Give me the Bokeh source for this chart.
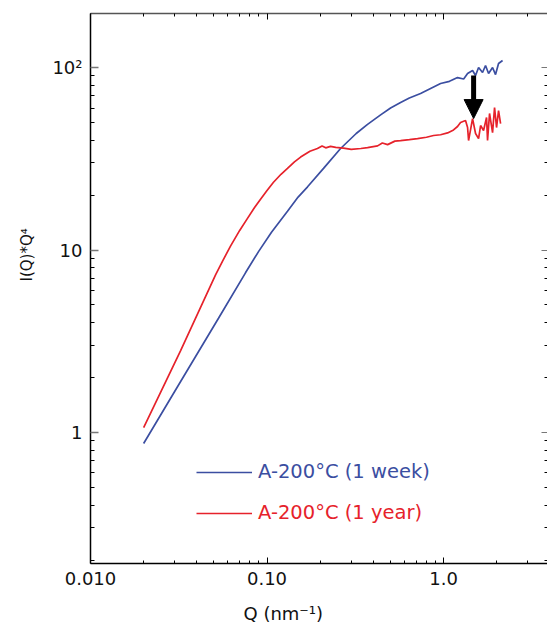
from bokeh.plotting import figure
from bokeh.models import (Range1d, FixedTicker, LogAxis, Legend, LegendItem,
                          Arrow, NormalHead, Title, CustomJSTickFormatter)
from bokeh.embed import file_html
from bokeh.resources import INLINE

# ---- data ----
q_week = [0.0200, 0.0311, 0.0531, 0.0755, 0.0895, 0.1060, 0.1306, 0.1500, 0.1697,
          0.209, 0.261, 0.320, 0.371, 0.440, 0.501, 0.571, 0.640, 0.741, 0.850,
          0.962, 1.08, 1.20, 1.30, 1.368, 1.460, 1.518, 1.579, 1.663, 1.729,
          1.799, 1.895, 1.970, 2.049, 2.159]
i_week = [0.870, 1.78, 4.23, 7.5, 9.8, 12.5, 16.3, 19.5, 22.2,
          28.0, 36.0, 43.5, 48.8, 55.0, 60.0, 64.3, 68.0, 72.0, 77.0,
          81.7, 84.0, 88.1, 86.5, 92.7, 96.3, 90.4, 100.0, 93.9, 102.6,
          92.7, 100.0, 91.5, 105.2, 109.2]

q_year = [0.0200, 0.0324, 0.0511, 0.0560, 0.0621, 0.0700, 0.0775, 0.0850, 0.0919,
          0.1000, 0.1088, 0.1200, 0.1306, 0.1430, 0.155, 0.175, 0.193, 0.205,
          0.215, 0.229, 0.245, 0.271, 0.300, 0.340, 0.371, 0.423, 0.450, 0.482,
          0.530, 0.571, 0.640, 0.712, 0.800, 0.878, 0.962, 1.054, 1.139, 1.20,
          1.248, 1.332, 1.368, 1.386, 1.460, 1.518, 1.579, 1.621, 1.685, 1.752,
          1.775, 1.822, 1.895, 1.945, 1.996, 2.049, 2.104]
i_year = [1.065, 2.81, 7.3, 8.7, 10.5, 12.8, 14.9, 17.1, 19.0,
          21.2, 23.5, 26.0, 28.0, 30.4, 32.3, 34.8, 36.0, 37.2,
          36.3, 37.0, 36.5, 36.2, 35.6, 36.0, 36.4, 37.2, 38.6, 37.8,
          39.5, 39.8, 40.3, 40.8, 41.5, 42.4, 42.8, 43.8, 45.5, 47.5,
          50.0, 51.2, 46.9, 39.8, 52.5, 43.5, 40.8, 48.1, 45.2, 53.2,
          39.8, 56.0, 44.0, 60.4, 46.9, 58.1, 49.3]

series_labels = ["A-200°C (1 week)", "A-200°C (1 year)"]

x_ticks = [0.01, 0.1, 1.0]
x_tick_labels = ["0.010", "0.10", "1.0"]
y_ticks = [1.0, 10.0, 100.0]
y_tick_labels = ["1", "10", "10²"]

arrow_q = 1.48
arrow_from = 90.4
arrow_to = 52.5

x_axis_label = "Q (nm⁻¹)"
y_axis_label = "I(Q)*Q⁴"

# ---- styling ----
FONT = "DejaVu Sans"
BLUE = "#3b4ea1"
RED = "#e6222b"
X0, X1 = 0.01, 3.88
Y0, Y1 = 0.1915, 197.7

p = figure(width=547, height=629, x_axis_type="log", y_axis_type="log",
           x_range=Range1d(X0, X1), y_range=Range1d(Y0, Y1),
           output_backend="svg", toolbar_location=None,
           min_border_left=90, min_border_right=0, min_border_top=13,
           min_border_bottom=66)
p.outline_line_color = None
p.xgrid.visible = False
p.ygrid.visible = False
p.background_fill_color = "white"
p.border_fill_color = "white"

minor_x = [m * 10.0 ** k for k in range(-2, 1) for m in range(2, 10)]
minor_x = [v for v in minor_x if X0 < v < X1]
minor_y = [m * 10.0 ** k for k in range(-1, 3) for m in range(2, 10)]
minor_y = [v for v in minor_y if Y0 < v < Y1]
xt = FixedTicker(ticks=x_ticks, minor_ticks=minor_x)
yt = FixedTicker(ticks=y_ticks, minor_ticks=minor_y)
blank = CustomJSTickFormatter(code="return ''")

xa = p.xaxis[0]
xa.ticker = xt
xa.major_label_overrides = dict(zip(x_ticks, x_tick_labels))
xa.major_tick_in = 6
xa.major_tick_out = 0
xa.minor_tick_in = 3
xa.minor_tick_out = 0
xa.axis_line_width = 1.5
xa.axis_line_color = "black"
xa.major_tick_line_color = "black"
xa.minor_tick_line_color = "black"
xa.major_label_text_font = FONT
xa.major_label_text_font_size = "18px"
xa.major_label_text_color = "#111111"
xa.major_label_standoff = 8
# blank spacer label so that the off-centre title below sits lower
xa.axis_label = " "
xa.axis_label_text_font_size = "1px"
xa.axis_label_standoff = 8

ya = p.yaxis[0]
ya.ticker = yt
ya.major_label_overrides = dict(zip(y_ticks, y_tick_labels))
ya.major_label_standoff = 8
ya.major_label_text_font = FONT
ya.major_label_text_font_size = "18px"
ya.major_label_text_color = "#111111"
ya.major_tick_in = 8
ya.major_tick_out = 0
ya.minor_tick_in = 4
ya.minor_tick_out = 0
ya.axis_line_width = 1.5
ya.axis_line_color = "black"
ya.major_tick_line_color = "#777777"
ya.major_tick_line_width = 1.5
ya.minor_tick_line_color = "black"

top = LogAxis(ticker=xt, formatter=blank, major_tick_in=6, major_tick_out=0,
              minor_tick_in=3, minor_tick_out=0, major_label_standoff=0,
              major_label_text_font_size="0px", axis_line_color="#555555",
              axis_line_width=1.5)
p.add_layout(top, "above")
right = LogAxis(ticker=yt, formatter=blank, major_tick_in=6, major_tick_out=0,
                minor_tick_in=3, minor_tick_out=0, major_label_standoff=0,
                major_label_text_font_size="0px", axis_line_color=None,
                major_tick_line_color="#777777")
p.add_layout(right, "right")

# axis titles placed off-centre as in the reference
p.add_layout(Title(text=y_axis_label, align="left", offset=282, standoff=27,
                   text_font=FONT, text_font_size="15px", text_font_style="normal",
                   text_color="#111111"), "left")
p.add_layout(Title(text=x_axis_label, align="left", offset=153, standoff=3,
                   text_font=FONT, text_font_size="18px", text_font_style="normal",
                   text_color="#111111"), "below")

r_week = p.line(q_week, i_week, line_color=BLUE, line_width=1.7)
r_year = p.line(q_year, i_year, line_color=RED, line_width=1.7)

# legends with coloured texts
for r, lab, col, loc in [(r_week, series_labels[0], BLUE, (106, 80)),
                         (r_year, series_labels[1], RED, (106, 39))]:
    leg = Legend(items=[LegendItem(label=lab, renderers=[r])], location=loc,
                 glyph_width=56, glyph_height=20, label_height=20,
                 label_standoff=6, padding=0, margin=0, spacing=0,
                 border_line_color=None, background_fill_alpha=0,
                 label_text_font=FONT, label_text_font_size="19.5px",
                 label_text_color=col)
    p.add_layout(leg, "center")

p.add_layout(Arrow(end=NormalHead(size=19, fill_color="black", line_color="black"),
                   x_start=arrow_q, y_start=arrow_from, x_end=arrow_q, y_end=arrow_to,
                   line_width=5, line_color="black"))

open("out.html", "w", encoding="utf-8").write(file_html(p, INLINE))
